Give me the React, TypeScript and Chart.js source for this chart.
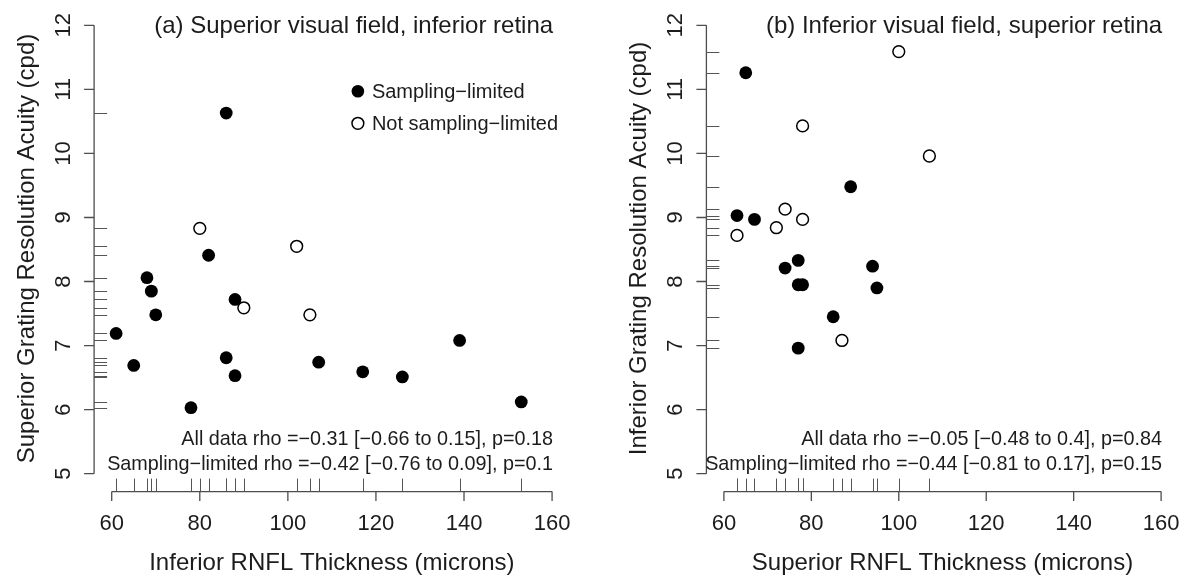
import React, { useEffect, useRef } from 'react';
import { Chart, registerables } from 'chart.js';

Chart.register(...registerables);

// ---- data ----
const xTicks = [60, 80, 100, 120, 140, 160];
const yTicks = [5, 6, 7, 8, 9, 10, 11, 12];

// Panel (a): superior visual field, inferior retina
const aFilledX = [61, 65, 68, 69, 70, 78, 82, 86, 86, 88, 88, 107, 117, 126, 139, 153];
const aFilledY = [7.19, 6.69, 8.06, 7.85, 7.48, 6.03, 8.41, 10.63, 6.81, 7.72, 6.53, 6.74, 6.59, 6.51, 7.08, 6.12];
const aOpenX = [80, 90, 102, 105];
const aOpenY = [8.83, 7.59, 8.55, 7.48];

// Panel (b): inferior visual field, superior retina
const bFilledX = [63, 65, 67, 74, 77, 77, 77, 78, 85, 89, 94, 95];
const bFilledY = [9.03, 11.26, 8.97, 8.21, 8.33, 7.95, 6.96, 7.95, 7.45, 9.48, 8.24, 7.9];
const bOpenX = [63, 72, 74, 78, 78, 87, 100, 107];
const bOpenY = [8.72, 8.84, 9.13, 8.97, 10.43, 7.08, 11.59, 9.96];

const legendLabels = ['Sampling\u2212limited', 'Not sampling\u2212limited'];

const FONT = '"Liberation Sans", Arial, Helvetica, sans-serif';
const AXIS = '#4d4d4d';
const RUG = '#555555';
const TEXT = '#1c1c1c';

type Panel = {
  title: string;
  xTitle: string;
  yTitle: string;
  note1: string;
  note2: string;
  legend: boolean;
  fx: number[];
  fy: number[];
  ox: number[];
  oy: number[];
  padLeft: number;
  padRight: number;
};

const panels: Panel[] = [
  {
    title: '(a) Superior visual field, inferior retina',
    xTitle: 'Inferior RNFL Thickness (microns)',
    yTitle: 'Superior Grating Resolution Acuity (cpd)',
    note1: 'All data rho =\u22120.31 [\u22120.66 to 0.15], p=0.18',
    note2: 'Sampling\u2212limited rho =\u22120.42 [\u22120.76 to 0.09], p=0.1',
    legend: true,
    fx: aFilledX, fy: aFilledY, ox: aOpenX, oy: aOpenY,
    padLeft: 94.1, padRight: 23.3,
  },
  {
    title: '(b) Inferior visual field, superior retina',
    xTitle: 'Superior RNFL Thickness (microns)',
    yTitle: 'Inferior Grating Resolution Acuity (cpd)',
    note1: 'All data rho =\u22120.05 [\u22120.48 to 0.4], p=0.84',
    note2: 'Sampling\u2212limited rho =\u22120.44 [\u22120.81 to 0.17], p=0.15',
    legend: false,
    fx: bFilledX, fy: bFilledY, ox: bOpenX, oy: bOpenY,
    padLeft: 113.4, padRight: 4.4,
  },
];

function makePlugin(p: Panel) {
  return {
    id: 'rstyle',
    beforeDatasetsDraw(chart: any) {
      const ctx: CanvasRenderingContext2D = chart.ctx;
      const xs = chart.scales.x;
      const ys = chart.scales.y;
      const L = chart.chartArea.left;
      const B = chart.chartArea.bottom;
      const R = chart.chartArea.right;
      const T = chart.chartArea.top;
      ctx.save();
      // axes
      ctx.strokeStyle = AXIS;
      ctx.lineWidth = 1.3;
      ctx.beginPath();
      ctx.moveTo(xs.getPixelForValue(xTicks[0]), B);
      ctx.lineTo(xs.getPixelForValue(xTicks[xTicks.length - 1]), B);
      xTicks.forEach((v) => {
        const px = xs.getPixelForValue(v);
        ctx.moveTo(px, B);
        ctx.lineTo(px, B + 9.5);
      });
      ctx.moveTo(L, ys.getPixelForValue(yTicks[0]));
      ctx.lineTo(L, ys.getPixelForValue(yTicks[yTicks.length - 1]));
      yTicks.forEach((v) => {
        const py = ys.getPixelForValue(v);
        ctx.moveTo(L, py);
        ctx.lineTo(L - 10, py);
      });
      ctx.stroke();
      // rugs
      ctx.strokeStyle = RUG;
      ctx.lineWidth = 1;
      ctx.beginPath();
      p.fx.concat(p.ox).forEach((v) => {
        const px = Math.round(xs.getPixelForValue(v)) + 0.5;
        ctx.moveTo(px, B);
        ctx.lineTo(px, B - 13);
      });
      p.fy.concat(p.oy).forEach((v) => {
        const py = Math.round(ys.getPixelForValue(v)) + 0.5;
        ctx.moveTo(L, py);
        ctx.lineTo(L + 13, py);
      });
      ctx.stroke();

      ctx.fillStyle = TEXT;
      // x tick labels
      ctx.font = `22px ${FONT}`;
      ctx.textAlign = 'center';
      ctx.textBaseline = 'alphabetic';
      xTicks.forEach((v) => {
        ctx.fillText(String(v), xs.getPixelForValue(v), B + 38.5);
      });
      // y tick labels (rotated)
      yTicks.forEach((v) => {
        ctx.save();
        ctx.translate(L - 24, ys.getPixelForValue(v));
        ctx.rotate(-Math.PI / 2);
        ctx.fillText(String(v), 0, 0);
        ctx.restore();
      });
      // axis titles
      ctx.font = `24px ${FONT}`;
      ctx.fillText(p.xTitle, (L + R) / 2, B + 78.5);
      ctx.save();
      ctx.translate(L - 60.5, (T + B) / 2 - 1);
      ctx.rotate(-Math.PI / 2);
      ctx.fillText(p.yTitle, 0, 0);
      ctx.restore();
      // title, right aligned at x = 160
      ctx.textAlign = 'right';
      ctx.fillText(p.title, xs.getPixelForValue(160) + 1, 32.5);
      // notes
      ctx.font = `19.8px ${FONT}`;
      ctx.fillText(p.note1, xs.getPixelForValue(160) + 1, 445);
      ctx.fillText(p.note2, xs.getPixelForValue(160) + 1, 469.5);
      ctx.restore();
    },
    afterDatasetsDraw(chart: any) {
      if (!p.legend) return;
      const ctx: CanvasRenderingContext2D = chart.ctx;
      const xs = chart.scales.x;
      const ys = chart.scales.y;
      const lx = xs.getPixelForValue(115.9);
      const rows = [ys.getPixelForValue(10.97), ys.getPixelForValue(10.47)];
      ctx.save();
      // filled symbol
      ctx.fillStyle = '#000';
      ctx.beginPath();
      ctx.arc(lx, rows[0], 6.3, 0, Math.PI * 2);
      ctx.fill();
      // open symbol
      ctx.strokeStyle = '#000';
      ctx.lineWidth = 1.5;
      ctx.beginPath();
      ctx.arc(lx, rows[1], 5.9, 0, Math.PI * 2);
      ctx.stroke();
      ctx.fillStyle = TEXT;
      ctx.font = `20px ${FONT}`;
      ctx.textAlign = 'left';
      ctx.textBaseline = 'alphabetic';
      ctx.fillText(legendLabels[0], lx + 14, rows[0] + 6.5);
      ctx.fillText(legendLabels[1], lx + 14, rows[1] + 6.5);
      ctx.restore();
    },
  };
}

function PanelChart({ panel, left }: { panel: Panel; left: number }) {
  const ref = useRef<HTMLCanvasElement | null>(null);
  useEffect(() => {
    if (!ref.current) return;
    const chart = new Chart(ref.current, {
      type: 'scatter',
      data: {
        datasets: [
          {
            label: legendLabels[0],
            data: panel.fx.map((x, i) => ({ x, y: panel.fy[i] })),
            backgroundColor: '#000',
            borderColor: '#000',
            borderWidth: 0,
            pointRadius: 6.4,
            pointHoverRadius: 6.4,
          },
          {
            label: legendLabels[1],
            data: panel.ox.map((x, i) => ({ x, y: panel.oy[i] })),
            backgroundColor: 'rgba(0,0,0,0)',
            borderColor: '#000',
            borderWidth: 1.5,
            pointRadius: 5.9,
            pointHoverRadius: 5.9,
          },
        ],
      },
      options: {
        responsive: false,
        animation: false,
        events: [],
        layout: {
          padding: { left: panel.padLeft, right: panel.padRight, top: 6.3, bottom: 84.4 },
        },
        scales: {
          x: { type: 'linear', display: false, min: 56, max: 164 },
          y: { type: 'linear', display: false, min: 4.72, max: 12.28 },
        },
        plugins: {
          legend: { display: false },
          tooltip: { enabled: false },
        },
      },
      plugins: [makePlugin(panel)],
    });
    return () => chart.destroy();
  }, [panel]);
  return (
    <canvas
      ref={ref}
      width={593}
      height={576}
      style={{ position: 'absolute', left, top: 0, width: 593, height: 576 }}
    />
  );
}

export default function App() {
  return (
    <div
      style={{
        position: 'fixed',
        left: 0,
        top: 0,
        width: 1186,
        height: 576,
        background: '#fff',
        overflow: 'hidden',
      }}
    >
      <PanelChart panel={panels[0]} left={0} />
      <PanelChart panel={panels[1]} left={593} />
    </div>
  );
}
